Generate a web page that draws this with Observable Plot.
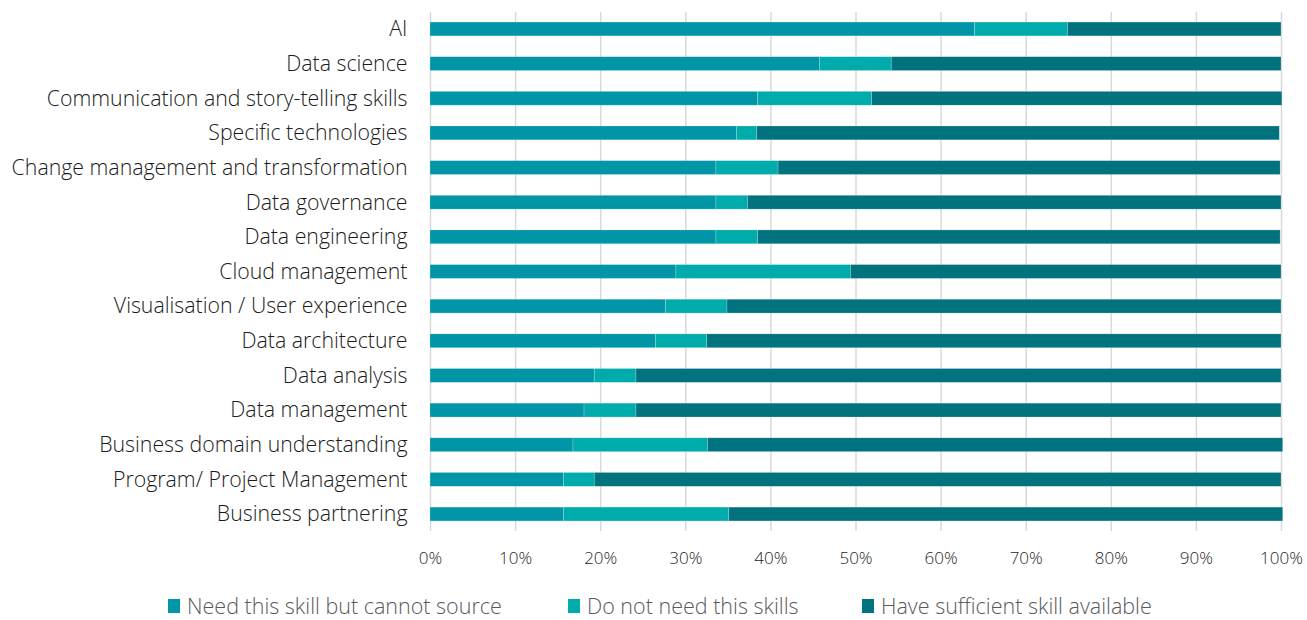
<!DOCTYPE html>
<html>
<head>
<meta charset="utf-8">
<script src="https://cdn.jsdelivr.net/npm/d3@7"></script>
<script src="https://cdn.jsdelivr.net/npm/@observablehq/plot@0.6"></script>
<style>
  html, body { margin: 0; padding: 0; background: #fff; }
  body { width: 1307px; font-family: "Open Sans", sans-serif; }
  #legend { position: relative; height: 36px; font-size: 21.5px; font-weight: 300; color: #595959; }
  .item { position: absolute; top: 16px; display: flex; align-items: center; height: 18px; line-height: 18px; white-space: nowrap; }
  .sw { width: 12px; height: 14px; margin-right: 7px; flex: none; }
</style>
</head>
<body>
<div id="chart"></div>
<div id="legend"></div>
<script>
const categories = [
  "AI",
  "Data science",
  "Communication and story-telling skills",
  "Specific technologies",
  "Change management and transformation",
  "Data governance",
  "Data engineering",
  "Cloud management",
  "Visualisation / User experience",
  "Data architecture",
  "Data analysis",
  "Data management",
  "Business domain understanding",
  "Program/ Project Management",
  "Business partnering"
];
const seriesNames = [
  "Need this skill but cannot source",
  "Do not need this skills",
  "Have sufficient skill available"
];
const needCannotSource = [64.0, 45.8, 38.5, 36.0, 33.6, 33.6, 33.6, 28.9, 27.7, 26.5, 19.3, 18.1, 16.8, 15.7, 15.7];
const doNotNeed        = [10.9,  8.4, 13.4,  2.4,  7.3,  3.7,  4.9, 20.5,  7.2,  6.0,  4.9,  6.1, 15.8,  3.6, 19.4];
const haveSufficient   = [25.1, 45.8, 48.2, 61.4, 59.0, 62.7, 61.4, 50.6, 65.1, 67.5, 75.8, 75.8, 67.6, 80.7, 65.1];
const xTicks = [0, 10, 20, 30, 40, 50, 60, 70, 80, 90, 100];
const colors = ["#0096a8", "#00abab", "#00737f"];

const seriesValues = [needCannotSource, doNotNeed, haveSufficient];
const rows = [];
categories.forEach((c, i) => {
  seriesNames.forEach((s, j) => {
    rows.push({category: c, series: s, value: seriesValues[j][i]});
  });
});

const chart = Plot.plot({
  width: 1307,
  height: 581,
  marginLeft: 430,
  marginRight: 26,
  marginTop: 12,
  marginBottom: 50,
  style: {fontFamily: "'Open Sans', sans-serif", background: "#fff"},
  x: {domain: [0, 100], ticks: xTicks, tickFormat: d => d + "%", label: null},
  y: {domain: categories, padding: 0.6, paddingOuter: 0.29, round: false, label: null},
  color: {domain: seriesNames, range: colors},
  marks: [
    Plot.gridX(xTicks, {stroke: "#d9d9d9", strokeOpacity: 1, strokeWidth: 1.5}),
    Plot.barX(rows, Plot.stackX({
      y: "category",
      x: "value",
      fill: "series",
      order: seriesNames,
      stroke: "#ffffff",
      strokeOpacity: 0.35,
      strokeWidth: 0.6
    })),
    Plot.axisX({ticks: xTicks, tickFormat: d => d + "%", tickSize: 0, tickPadding: 20, fontSize: 17, fontWeight: 300, fill: "#262626", label: null}),
    Plot.axisY({tickSize: 0, tickPadding: 23, fontSize: 21.3, fontWeight: 300, fill: "#1a1a1a", label: null})
  ]
});
document.getElementById("chart").appendChild(chart);

const legend = document.getElementById("legend");
const starts = [168, 568, 862];
seriesNames.forEach((s, i) => {
  const item = document.createElement("div");
  item.className = "item";
  item.style.left = starts[i] + "px";
  const sw = document.createElement("span");
  sw.className = "sw";
  sw.style.background = colors[i];
  const t = document.createElement("span");
  t.textContent = s;
  item.appendChild(sw);
  item.appendChild(t);
  legend.appendChild(item);
});
</script>
</body>
</html>
